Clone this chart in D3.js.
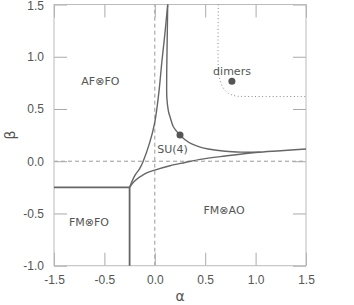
<!DOCTYPE html>
<html>
<head>
<meta charset="utf-8">
<script src="https://cdn.jsdelivr.net/npm/d3@7"></script>
<style>
body { margin: 0; background: #fff; }
svg { display: block; font-family: "DejaVu Sans", sans-serif; }
</style>
</head>
<body>
<svg width="354" height="305"></svg>
<script>
// tick positions and the labels printed under them
const xTickVals = [-1, -0.5, 0, 0.5, 1, 1.5];
const xTickLabels = ['-1.5', '-0.5', '0.0', '0.5', '1.0', '1.5'];
const yTickVals = [-1, -0.5, 0, 0.5, 1, 1.5];
const yTickLabels = ['-1.0', '-0.5', '0.0', '0.5', '1.0', '1.5'];

// phase boundaries [alpha, beta]
const fmfoBoundary = [[-1, -0.25], [-0.25, -0.25], [-0.25, -1]];
const leftBoundary = [[-0.25, -0.25], [-0.2, -0.14], [-0.15, -0.07], [-0.115, 0], [-0.05, 0.18],
  [-0.005, 0.35], [0.02, 0.5], [0.045, 0.7], [0.07, 0.95], [0.1, 1.22], [0.128, 1.5]];
const su4Boundary = [[0.128, 1.5], [0.122, 1.1], [0.118, 0.8], [0.12, 0.6], [0.135, 0.48],
  [0.151, 0.426], [0.184, 0.33], [0.25, 0.25], [0.3, 0.205], [0.366, 0.165], [0.45, 0.135],
  [0.53, 0.117], [0.7, 0.095], [0.86, 0.087], [1.05, 0.087]];
const lowerBoundary = [[-0.25, -0.25], [-0.2, -0.19], [-0.1, -0.12], [0, -0.085], [0.15, -0.043],
  [0.3, -0.012], [0.45, 0.018], [0.7, 0.05], [1.0, 0.083], [1.25, 0.1], [1.5, 0.117]];
const dimerBoundary = [[0.63, 1.5], [0.63, 0.9], [0.64, 0.8], [0.68, 0.7], [0.73, 0.65],
  [0.8, 0.625], [0.9, 0.62], [1.5, 0.62]];

const points = [[0.25, 0.25], [0.765, 0.765]];
const phaseLabels = [
  {text: 'AF\u2297FO', a: -0.54, b: 0.73},
  {text: 'dimers', a: 0.766, b: 0.83},
  {text: 'SU(4)', a: 0.176, b: 0.078},
  {text: 'FM\u2297FO', a: -0.653, b: -0.62},
  {text: 'FM\u2297AO', a: 0.687, b: -0.505}
];

const svg = d3.select('svg');
const margin = {left: 54, right: 48, top: 4.5, bottom: 39.3};
const width = +svg.attr('width');
const height = +svg.attr('height');

const x = d3.scaleLinear().domain([-1, 1.5]).range([margin.left, width - margin.right]);
const y = d3.scaleLinear().domain([-1, 1.5]).range([height - margin.bottom, margin.top]);

const line = d3.line().x(d => x(d[0])).y(d => y(d[1])).curve(d3.curveCatmullRom);

// reference lines at alpha=0 and beta=0
svg.append('line')
  .attr('x1', x(0)).attr('x2', x(0)).attr('y1', y(-1)).attr('y2', y(1.5))
  .attr('stroke', '#999').attr('stroke-dasharray', '4,3');
svg.append('line')
  .attr('x1', x(-1)).attr('x2', x(1.5)).attr('y1', y(0)).attr('y2', y(0))
  .attr('stroke', '#999').attr('stroke-dasharray', '4,3');

// axes, ticks pointing inwards on all four sides
const tickFmtX = (d, i) => xTickLabels[i];
const tickFmtY = (d, i) => yTickLabels[i];
const styleAxis = g => {
  g.select('.domain').remove();
  g.selectAll('.tick line').attr('stroke', '#aaa');
  g.selectAll('.tick text').attr('fill', '#555').style('font-size', '12px');
};
svg.append('g').attr('transform', `translate(0,${y(-1)})`)
  .call(d3.axisBottom(x).tickValues(xTickVals).tickFormat(tickFmtX).tickSize(-13).tickPadding(10))
  .call(styleAxis);
svg.append('g').attr('transform', `translate(0,${y(1.5)})`)
  .call(d3.axisTop(x).tickValues(xTickVals).tickFormat('').tickSize(-13))
  .call(styleAxis);
svg.append('g').attr('transform', `translate(${x(-1)},0)`)
  .call(d3.axisLeft(y).tickValues(yTickVals).tickFormat(tickFmtY).tickSize(-13).tickPadding(10))
  .call(styleAxis)
  .call(g => g.selectAll('.tick text').filter(d => d === 1.5).attr('dy', '0.45em'));
svg.append('g').attr('transform', `translate(${x(1.5)},0)`)
  .call(d3.axisRight(y).tickValues(yTickVals).tickFormat('').tickSize(-13))
  .call(styleAxis);

svg.append('rect')
  .attr('x', x(-1)).attr('y', y(1.5))
  .attr('width', x(1.5) - x(-1)).attr('height', y(-1) - y(1.5))
  .attr('fill', 'none').attr('stroke', '#bbb');

// boundaries
svg.append('path').datum(fmfoBoundary)
  .attr('d', d3.line().x(d => x(d[0])).y(d => y(d[1])))
  .attr('fill', 'none').attr('stroke', '#666').attr('stroke-width', 1.8);
[leftBoundary, su4Boundary, lowerBoundary].forEach(data => {
  svg.append('path').datum(data)
    .attr('d', line)
    .attr('fill', 'none').attr('stroke', '#666').attr('stroke-width', 1.4);
});
svg.append('path').datum(dimerBoundary)
  .attr('d', line)
  .attr('fill', 'none').attr('stroke', '#888').attr('stroke-width', 1)
  .attr('stroke-dasharray', '1,2.5');

svg.selectAll('circle.pt').data(points)
  .enter().append('circle')
  .attr('class', 'pt')
  .attr('cx', d => x(d[0])).attr('cy', d => y(d[1]))
  .attr('r', 3.5).attr('fill', '#555');

svg.selectAll('text.phase').data(phaseLabels)
  .enter().append('text')
  .attr('class', 'phase')
  .attr('x', d => x(d.a)).attr('y', d => y(d.b))
  .attr('text-anchor', 'middle')
  .attr('fill', '#555').style('font-size', '11px')
  .text(d => d.text);

// axis titles
svg.append('text')
  .attr('x', (x(-1) + x(1.5)) / 2).attr('y', 301)
  .attr('text-anchor', 'middle').attr('fill', '#555').style('font-size', '14px')
  .text('\u03b1');
svg.append('text')
  .attr('transform', `translate(15,${(y(-1) + y(1.5)) / 2}) rotate(-90)`)
  .attr('text-anchor', 'middle').attr('fill', '#555').style('font-size', '14px')
  .text('\u03b2');
</script>
</body>
</html>
